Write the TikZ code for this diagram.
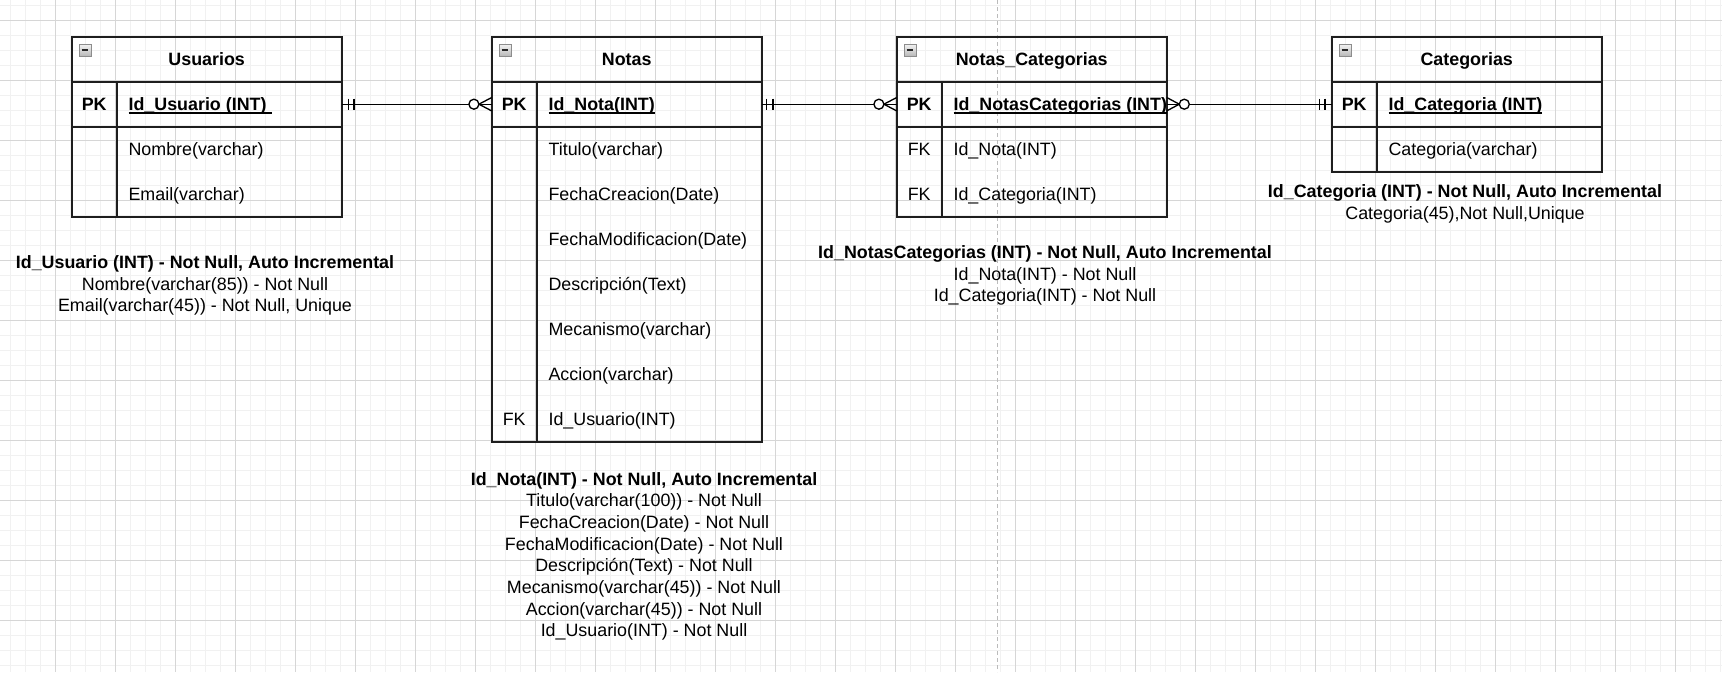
\documentclass[tikz,border=0pt]{standalone}
\usepackage{fontspec}
\setmainfont{Liberation Sans}
\usetikzlibrary{calc}
\newcommand\fsz{\fontsize{13.4}{16.25}\selectfont}
\newcommand\ulin[1]{\setbox0\hbox{#1}\rlap{\rule[-2.3pt]{\wd0}{0.9pt}}\box0}
\definecolor{bordc}{HTML}{1E1E1E}
\definecolor{majgrid}{HTML}{D6D6D6}
\definecolor{mingrid}{HTML}{F1F1F1}
\definecolor{dashc}{HTML}{BBBBBB}
\begin{document}
\begin{tikzpicture}[x=0.75pt,y=-0.75pt,
  every node/.style={font=\fsz, inner sep=0pt},
  tblhead/.style={draw=bordc, line width=1.3pt, outer sep=0pt, minimum width=202.5pt, minimum height=33.75pt, anchor=north west, text height=9.5pt, text depth=0pt, font=\fsz\bfseries},
  tblrow/.style={draw=bordc, line width=1.3pt, outer sep=0pt, minimum width=202.5pt, minimum height=33.75pt, anchor=north west},
  tblline/.style={draw=bordc, line width=1.3pt},
  sepline/.style={draw=bordc, line width=1.8pt},
  fld/.style={anchor=west, text height=9.5pt, text depth=0pt},
  bfld/.style={fld, font=\fsz\bfseries},
  keyc/.style={anchor=center, text height=9.5pt, text depth=0pt},
  bkeyc/.style={keyc, font=\fsz\bfseries},
  colicon/.style={draw=black!45, line width=0.6pt, anchor=north west, minimum size=9pt, outer sep=0pt, top color=black!5, bottom color=black!28},
  minus/.style={draw=black!85, line width=1.4pt},
  conn/.style={draw=black, line width=1pt},
  desc/.style={anchor=north, align=center, font=\fsz},
  majg/.style={draw=majgrid, line width=0.75pt},
  ming/.style={draw=mingrid, line width=0.75pt}
]
\useasboundingbox (0,0) rectangle (1722,672);
\fill[white] (0,0) rectangle (1722,672);
% grid
\foreach \x in {10,25,...,1720} \draw[ming] (\x,0) -- (\x,672);
\foreach \y in {5,20,...,670} \draw[ming] (0,\y) -- (1722,\y);
\foreach \x in {55,115,...,1720} \draw[majg] (\x,0) -- (\x,672);
\foreach \y in {20,80,...,670} \draw[majg] (0,\y) -- (1722,\y);
% page guide
\draw[dashc, line width=0.75pt, dash pattern=on 3pt off 2.25pt] (997,0) -- (997,672);

% ---------- Usuarios ----------
\node[tblhead] (uh) at (71.7,36.7) {Usuarios};
\node[tblrow] (upk) at (uh.south west) {};
\node[tblrow, minimum height=67.5pt] (ub) at (upk.south west) {};
\draw[tblline] ($(upk.north west)+(45,0)$) -- ($(ub.south west)+(45,0)$);
\draw[sepline] (upk.south west) -- (upk.south east);
\node[colicon] (uicon) at ($(uh.north west)+(7.3,7.5)$) {};
\draw[minus] ($(uicon.center)+(-3.4,0)$) -- ($(uicon.center)+(3.4,0)$);
\node[bkeyc] (upkk) at ($(upk.west)+(22.5,0)$) {PK};
\node[bfld] (upkf) at ($(upk.west)+(56.6,0)$) {\ulin{Id\_Usuario (INT)\ }};
\node[fld] (uf1) at ($(ub.north west)+(56.6,22.5)$) {Nombre(varchar)};
\node[fld] (uf2) at ($(ub.north west)+(56.6,67.5)$) {Email(varchar)};

% ---------- Notas ----------
\node[tblhead] (nh) at (491.7,36.7) {Notas};
\node[tblrow] (npk) at (nh.south west) {};
\node[tblrow, minimum height=236.25pt] (nb) at (npk.south west) {};
\draw[tblline] ($(npk.north west)+(45,0)$) -- ($(nb.south west)+(45,0)$);
\draw[sepline] (npk.south west) -- (npk.south east);
\node[colicon] (nicon) at ($(nh.north west)+(7.3,7.5)$) {};
\draw[minus] ($(nicon.center)+(-3.4,0)$) -- ($(nicon.center)+(3.4,0)$);
\node[bkeyc] (npkk) at ($(npk.west)+(22.5,0)$) {PK};
\node[bfld] (npkf) at ($(npk.west)+(56.6,0)$) {\ulin{Id\_Nota(INT)}};
\node[fld] (nf1) at ($(nb.north west)+(56.6,22.5)$) {Titulo(varchar)};
\node[fld] (nf2) at ($(nb.north west)+(56.6,67.5)$) {FechaCreacion(Date)};
\node[fld] (nf3) at ($(nb.north west)+(56.6,112.5)$) {FechaModificacion(Date)};
\node[fld] (nf4) at ($(nb.north west)+(56.6,157.5)$) {Descripción(Text)};
\node[fld] (nf5) at ($(nb.north west)+(56.6,202.5)$) {Mecanismo(varchar)};
\node[fld] (nf6) at ($(nb.north west)+(56.6,247.5)$) {Accion(varchar)};
\node[fld] (nf7) at ($(nb.north west)+(56.6,292.5)$) {Id\_Usuario(INT)};
\node[keyc] (nfk7) at ($(nb.north west)+(22.5,292.5)$) {FK};

% ---------- Notas_Categorias ----------
\node[tblhead] (ch) at (896.7,36.7) {Notas\_Categorias};
\node[tblrow] (cpk) at (ch.south west) {};
\node[tblrow, minimum height=67.5pt] (cb) at (cpk.south west) {};
\draw[tblline] ($(cpk.north west)+(45,0)$) -- ($(cb.south west)+(45,0)$);
\draw[sepline] (cpk.south west) -- (cpk.south east);
\node[colicon] (cicon) at ($(ch.north west)+(7.3,7.5)$) {};
\draw[minus] ($(cicon.center)+(-3.4,0)$) -- ($(cicon.center)+(3.4,0)$);
\node[bkeyc] (cpkk) at ($(cpk.west)+(22.5,0)$) {PK};
\node[bfld] (cpkf) at ($(cpk.west)+(56.6,0)$) {\ulin{Id\_NotasCategorias (INT)}};
\node[fld] (cf1) at ($(cb.north west)+(56.6,22.5)$) {Id\_Nota(INT)};
\node[fld] (cf2) at ($(cb.north west)+(56.6,67.5)$) {Id\_Categoria(INT)};
\node[keyc] (cfk1) at ($(cb.north west)+(22.5,22.5)$) {FK};
\node[keyc] (cfk2) at ($(cb.north west)+(22.5,67.5)$) {FK};

% ---------- Categorias ----------
\node[tblhead] (kh) at (1331.7,36.7) {Categorias};
\node[tblrow] (kpk) at (kh.south west) {};
\node[tblrow, minimum height=33.75pt] (kb) at (kpk.south west) {};
\draw[tblline] ($(kpk.north west)+(45,0)$) -- ($(kb.south west)+(45,0)$);
\draw[sepline] (kpk.south west) -- (kpk.south east);
\node[colicon] (kicon) at ($(kh.north west)+(7.3,7.5)$) {};
\draw[minus] ($(kicon.center)+(-3.4,0)$) -- ($(kicon.center)+(3.4,0)$);
\node[bkeyc] (kpkk) at ($(kpk.west)+(22.5,0)$) {PK};
\node[bfld] (kpkf) at ($(kpk.west)+(56.6,0)$) {\ulin{Id\_Categoria (INT)}};
\node[fld] (kf1) at ($(kb.north west)+(56.6,22.5)$) {Categoria(varchar)};

% ---------- relationships ----------
% Usuarios ||----o< Notas
\draw[conn] (upk.east) -- (npk.west);
\draw[conn] ($(upk.east)+(6.5,-5.5)$) -- ($(upk.east)+(6.5,5.5)$);
\draw[conn] ($(upk.east)+(12.3,-5.5)$) -- ($(upk.east)+(12.3,5.5)$);
\draw[conn] ($(npk.west)+(0,-6.7)$) -- ($(npk.west)+(-12.8,0)$) -- ($(npk.west)+(0,6.7)$);
\draw[conn, fill=white] ($(npk.west)+(-17.8,0)$) circle[radius=3.75pt];
% Notas ||----o< Notas_Categorias
\draw[conn] (npk.east) -- (cpk.west);
\draw[conn] ($(npk.east)+(5,-5.5)$) -- ($(npk.east)+(5,5.5)$);
\draw[conn] ($(npk.east)+(11.3,-5.5)$) -- ($(npk.east)+(11.3,5.5)$);
\draw[conn] ($(cpk.west)+(0,-6.7)$) -- ($(cpk.west)+(-12.8,0)$) -- ($(cpk.west)+(0,6.7)$);
\draw[conn, fill=white] ($(cpk.west)+(-17.8,0)$) circle[radius=3.75pt];
% Notas_Categorias >o----|| Categorias
\draw[conn] (cpk.east) -- (kpk.west);
\draw[conn] ($(cpk.east)+(0,-6.7)$) -- ($(cpk.east)+(12.6,0)$) -- ($(cpk.east)+(0,6.7)$);
\draw[conn, fill=white] ($(cpk.east)+(17.6,0)$) circle[radius=3.75pt];
\draw[conn] ($(kpk.west)+(-6.7,-5.5)$) -- ($(kpk.west)+(-6.7,5.5)$);
\draw[conn] ($(kpk.west)+(-12,-5.5)$) -- ($(kpk.west)+(-12,5.5)$);

% ---------- descriptions ----------
\node[desc] (udesc) at (205,255.2) {\textbf{Id\_Usuario (INT) - Not Null, Auto Incremental}\\Nombre(varchar(85)) - Not Null\\Email(varchar(45)) - Not Null, Unique};
\node[desc] (ndesc) at (644,471.8) {\textbf{Id\_Nota(INT) - Not Null, Auto Incremental}\\Titulo(varchar(100)) - Not Null\\FechaCreacion(Date) - Not Null\\FechaModificacion(Date) - Not Null\\Descripción(Text) - Not Null\\Mecanismo(varchar(45)) - Not Null\\Accion(varchar(45)) - Not Null\\Id\_Usuario(INT) - Not Null};
\node[desc] (cdesc) at (1045,245.2) {\textbf{Id\_NotasCategorias (INT) - Not Null, Auto Incremental}\\Id\_Nota(INT) - Not Null\\Id\_Categoria(INT) - Not Null};
\node[desc] (kdesc) at (1465,184.2) {\textbf{Id\_Categoria (INT) - Not Null, Auto Incremental}\\Categoria(45),Not Null,Unique};
\end{tikzpicture}
\end{document}
